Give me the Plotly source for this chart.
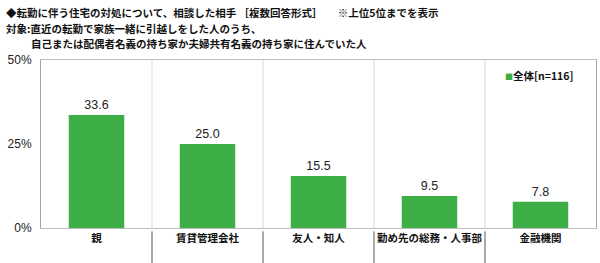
import plotly.graph_objects as go

categories = ["親", "賃貸管理会社", "友人・知人", "勤め先の総務・人事部", "金融機関"]
values = [33.6, 25.0, 15.5, 9.5, 7.8]
series_name = "全体[n=116]"
y_ticks = [0, 25, 50]
y_tick_labels = ["0%", "25%", "50%"]

JP = "Noto Sans CJK JP, sans-serif"
NUM = "Liberation Sans, Arial, sans-serif"
GREEN = "#3DAE46"

fig = go.Figure()
fig.add_trace(go.Bar(
    x=categories, y=values, name=series_name,
    marker=dict(color=GREEN, line=dict(width=0)),
    width=0.5,
    text=[f"{v:.1f}" for v in values],
    textposition="outside",
    textfont=dict(family=NUM, size=12.5, color="#222"),
    cliponaxis=False,
    showlegend=False,
))

# vertical separators between categories
for i in range(len(categories) - 1):
    fig.add_shape(type="line", xref="x", yref="y", x0=i + 0.5, x1=i + 0.5, y0=0, y1=50,
                  line=dict(color="#d9d9d9", width=1), layer="below")
    fig.add_shape(type="line", xref="x", yref="paper", x0=i + 0.5, x1=i + 0.5, y0=-0.02, y1=-0.21,
                  line=dict(color="#555", width=1))

fig.update_layout(
    width=600, height=263,
    margin=dict(l=41, r=4, t=60, b=35),
    plot_bgcolor="white", paper_bgcolor="white",
    xaxis=dict(showline=True, linecolor="#bfbfbf", mirror=True, showgrid=False, ticks="",
               tickvals=categories, ticktext=[f"<b>{c}</b>" for c in categories],
               tickfont=dict(family=JP, size=10.5, color="#111"), range=[-0.5, 4.5], fixedrange=True),
    yaxis=dict(range=[0, 50], tickvals=y_ticks, ticktext=y_tick_labels, showgrid=False,
               showline=True, linecolor="#a6a6a6", mirror=True, zeroline=False,
               tickfont=dict(family=NUM, size=12, color="#222"), ticks="", ticklabelstandoff=6),
    font=dict(family=JP),
    showlegend=False,
)

# legend-like label
fig.add_annotation(xref="paper", yref="paper", x=(503 - 41) / 555, y=1 - (75 - 60) / 168,
                   xanchor="left", yanchor="middle", showarrow=False,
                   text=f"<span style='color:{GREEN};font-size:8px'>■</span><b>{series_name}</b>",
                   font=dict(family=JP, size=10.5, color="#111"))

title_font = dict(family=JP, size=10.5, color="#111")
fig.add_annotation(xref="paper", yref="paper", x=-37/555, y=1 + (60 - 12) / 168, xanchor="left", yanchor="middle",
                   text="<b>◆転勤に伴う住宅の対処について、相談した相手 ［複数回答形式］ 　 ※上位5位までを表示</b>",
                   showarrow=False, font=title_font)
fig.add_annotation(xref="paper", yref="paper", x=-37/555, y=1 + (60 - 28) / 168, xanchor="left", yanchor="middle",
                   text="<b>対象:直近の転勤で家族一緒に引越しをした人のうち、</b>",
                   showarrow=False, font=title_font)
fig.add_annotation(xref="paper", yref="paper", x=-(41 - 29)/555, y=1 + (60 - 44) / 168, xanchor="left", yanchor="middle",
                   text="<b>自己または配偶者名義の持ち家か夫婦共有名義の持ち家に住んでいた人</b>",
                   showarrow=False, font=title_font)

fig.write_html("out.html")
